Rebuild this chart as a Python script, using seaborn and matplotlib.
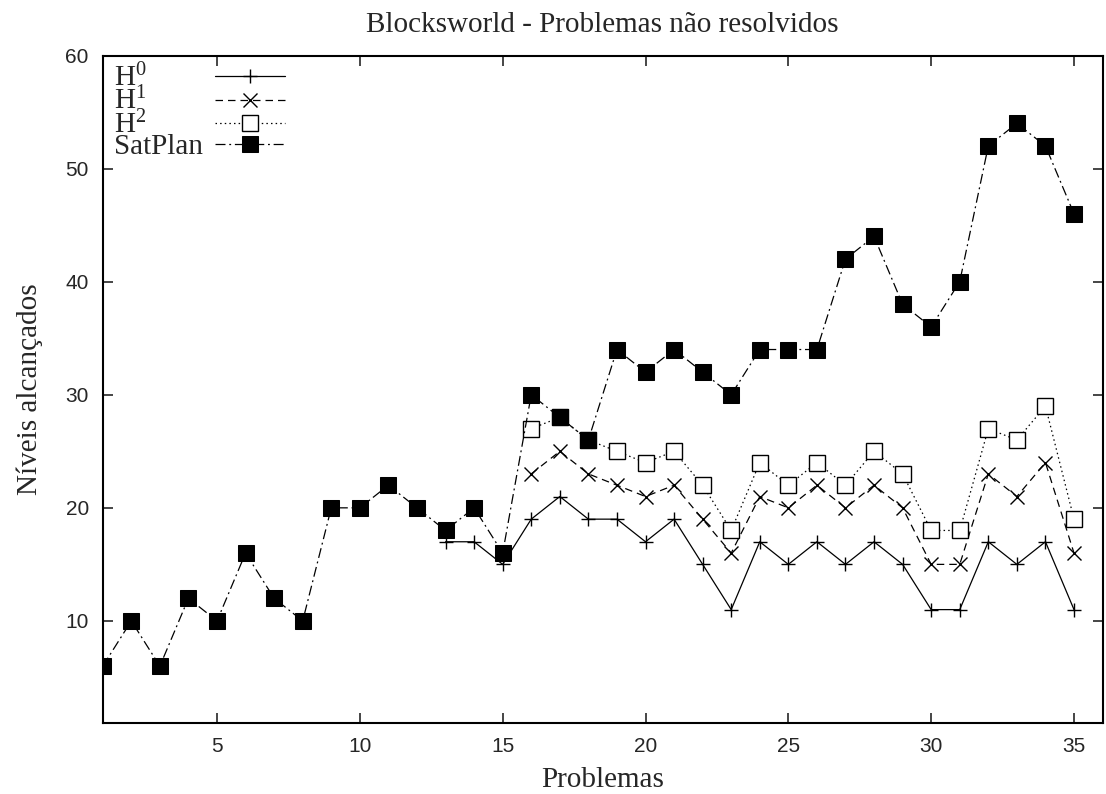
import numpy as np
import pandas as pd
import matplotlib
matplotlib.use("Agg")
import matplotlib.pyplot as plt
import seaborn as sns

# ---- data ----
problems_sat = list(range(1, 36))
satplan = [6, 10, 6, 12, 10, 16, 12, 10, 20, 20, 22, 20, 18, 20, 16,
           30, 28, 26, 34, 32, 34, 32, 30, 34, 34, 34, 42, 44, 38, 36,
           40, 52, 54, 52, 46]

problems_h0 = list(range(13, 36))
h0 = [17, 17, 15, 19, 21, 19, 19, 17, 19, 15, 11, 17, 15, 17, 15, 17,
      15, 11, 11, 17, 15, 17, 11]

problems_h12 = list(range(16, 36))
h1 = [23, 25, 23, 22, 21, 22, 19, 16, 21, 20, 22, 20, 22, 20, 15, 15,
      23, 21, 24, 16]
h2 = [27, 28, 26, 25, 24, 25, 22, 18, 24, 22, 24, 22, 25, 23, 18, 18,
      27, 26, 29, 19]

series_labels = [r"H$^{0}$", r"H$^{1}$", r"H$^{2}$", "SatPlan"]
x_ticks = [5, 10, 15, 20, 25, 30, 35]
y_ticks = [10, 20, 30, 40, 50, 60]
title = "Blocksworld - Problemas não resolvidos"
xlabel = "Problemas"
ylabel = "Níveis alcançados"

# ---- style ----
sns.set_style("ticks")
plt.rcParams["font.family"] = ["Liberation Serif", "DejaVu Serif"]
plt.rcParams["mathtext.fontset"] = "custom"
plt.rcParams["mathtext.rm"] = "Liberation Serif"
plt.rcParams["mathtext.it"] = "Liberation Serif:italic"
plt.rcParams["mathtext.bf"] = "Liberation Serif:bold"

fig = plt.figure(figsize=(11.06, 7.94), dpi=100)
ax = fig.add_axes([0.0929, 0.0898, 0.9040, 0.8403])

df0 = pd.DataFrame({"x": problems_h0, "y": h0})
df1 = pd.DataFrame({"x": problems_h12, "y": h1})
df2 = pd.DataFrame({"x": problems_h12, "y": h2})
dfs = pd.DataFrame({"x": problems_sat, "y": satplan})

lw = 0.9
sns.lineplot(data=df0, x="x", y="y", ax=ax, color="black", lw=lw,
             linestyle="-", marker="+", markersize=10, markeredgewidth=1.0,
             markeredgecolor="black", label=series_labels[0])
sns.lineplot(data=df1, x="x", y="y", ax=ax, color="black", lw=lw,
             linestyle=(0, (6, 4)), marker="x", markersize=10,
             markeredgewidth=1.0, markeredgecolor="black",
             label=series_labels[1])
sns.lineplot(data=df2, x="x", y="y", ax=ax, color="black", lw=lw,
             linestyle=(0, (1.2, 2.5)), marker="s", markersize=11,
             markerfacecolor="white", markeredgecolor="black",
             markeredgewidth=1.0, label=series_labels[2])
sns.lineplot(data=dfs, x="x", y="y", ax=ax, color="black", lw=lw,
             linestyle=(0, (8, 3, 1.5, 3)), marker="s", markersize=11.5,
             markerfacecolor="black", markeredgecolor="black",
             label=series_labels[3])

ax.set_xlim(1, 36)
ax.set_ylim(1, 60)
ax.set_xticks(x_ticks)
ax.set_yticks(y_ticks)
ax.tick_params(direction="in", length=7, width=1.2, top=True, right=True,
               labelsize=15, pad=10)
for lab in ax.get_xticklabels() + ax.get_yticklabels():
    lab.set_fontfamily(["Liberation Sans", "DejaVu Sans"])
for sp in ax.spines.values():
    sp.set_linewidth(1.5)
    sp.set_color("black")

ax.set_title(title, fontsize=21, pad=17)
ax.set_xlabel(xlabel, fontsize=21, labelpad=8)
ax.set_ylabel(ylabel, fontsize=21, labelpad=16)

leg = ax.legend(loc="upper left", frameon=False, markerfirst=False,
                fontsize=21, handlelength=2.4, handletextpad=0.4,
                labelspacing=-0.18, numpoints=1, borderaxespad=0.2,
                bbox_to_anchor=(-0.006, 1.0135))

# left-align the legend texts while keeping the line samples aligned
fig.canvas.draw()
renderer = fig.canvas.get_renderer()
dpicor = renderer.points_to_pixels(1.0)
col = leg._legend_handle_box.get_children()[0]
rows = col.get_children()
widths = [r.get_children()[0].get_bbox(renderer).width for r in rows]
maxw = max(widths)
col.align = "left"
for r, w in zip(rows, widths):
    r.sep = r.sep + (maxw - w) / dpicor

fig.savefig("out.png", dpi=100)
